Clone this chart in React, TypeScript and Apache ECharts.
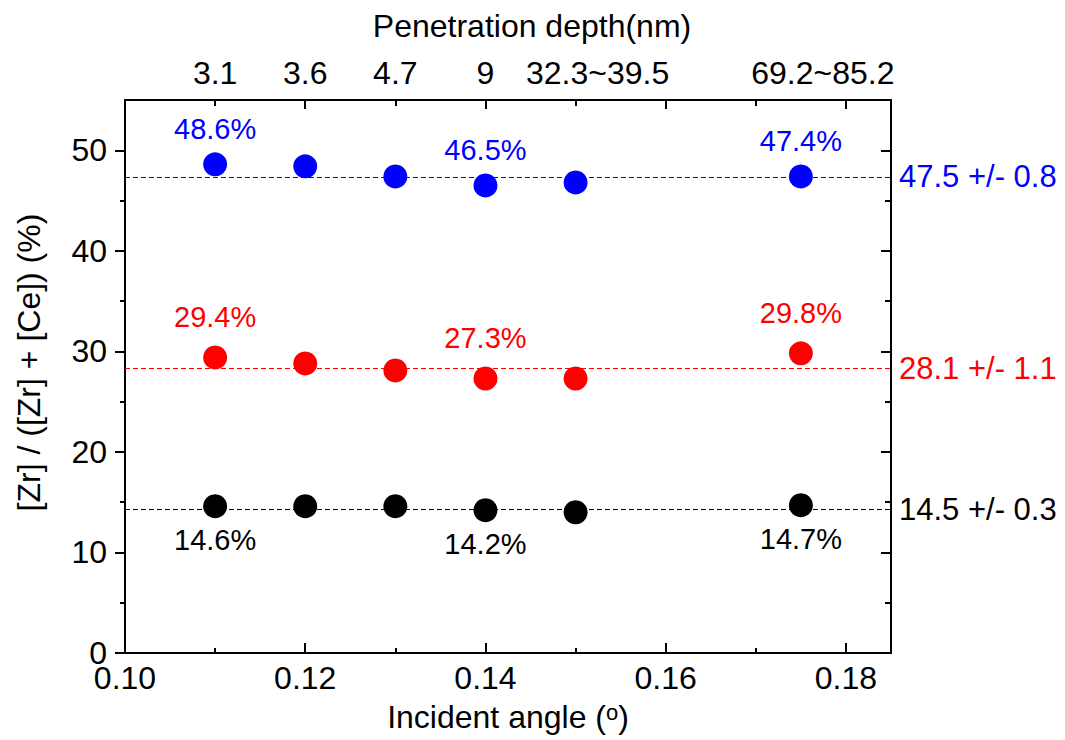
import React, { useEffect, useRef } from "react";
import * as echarts from "echarts";

// ---- data ----
const angles = [0.11, 0.12, 0.13, 0.14, 0.15, 0.175];
const depthLabels = ["3.1", "3.6", "4.7", "9", "32.3~39.5", "69.2~85.2"];
const blueValues = [48.6, 48.4, 47.4, 46.5, 46.8, 47.4];
const redValues = [29.4, 28.8, 28.1, 27.3, 27.3, 29.8];
const blackValues = [14.6, 14.6, 14.6, 14.2, 14.0, 14.7];
const labeledPoints = [0, 3, 5];
const meanLines = [47.35, 28.3, 14.3];
const meanTexts = ["47.5 +/- 0.8", "28.1 +/- 1.1", "14.5 +/- 0.3"];
const xMajorTicks = [0.1, 0.12, 0.14, 0.16, 0.18];
const xMinorTicks = [0.11, 0.13, 0.15, 0.17];
const yMajorTicks = [0, 10, 20, 30, 40, 50];
const yMinorTicks = [5, 15, 25, 35, 45];

const FONT = "'Liberation Sans', Arial, Helvetica, sans-serif";
const X_MIN = 0.1;
const X_MAX = 0.185;
const Y_MIN = 0;
const Y_MAX = 55;

export default function App() {
  const ref = useRef<HTMLDivElement>(null);

  useEffect(() => {
    if (!ref.current) return;
    const chart = echarts.init(ref.current, undefined, { renderer: "svg" });

    const axisLine = { show: true, onZero: false, lineStyle: { color: "#000", width: 2 } };
    const noLine = { show: false, onZero: false };

    const xBase = {
      type: "value" as const,
      min: X_MIN,
      max: X_MAX,
      splitLine: { show: false },
    };
    const yBase = {
      type: "value" as const,
      min: Y_MIN,
      max: Y_MAX,
      splitLine: { show: false },
    };

    const makeSeries = (
      name: string,
      values: number[],
      color: string,
      k: number,
      pos: "top" | "bottom",
      dist: number
    ) => ({
      name,
      type: "scatter",
      symbol: "circle",
      symbolSize: 24,
      itemStyle: { color, opacity: 1 },
      emphasis: { disabled: true },
      data: angles.map((a, i) => ({
        value: [a, values[i]],
        label: { show: labeledPoints.includes(i) },
      })),
      label: {
        show: false,
        position: pos,
        distance: dist,
        color,
        opacity: 1,
        fontSize: 29,
        fontFamily: FONT,
        formatter: (p: any) => `${Number(p.value[1]).toFixed(1)}%`,
      },
      markLine: {
        silent: true,
        symbol: "none",
        animation: false,
        lineStyle: { type: [5, 3], width: 1, color, opacity: 1 },
        label: {
          show: true,
          position: "end",
          distance: 8,
          color,
          fontSize: 31,
          fontFamily: FONT,
          formatter: () => meanTexts[k],
        },
        data: [{ yAxis: meanLines[k] }],
      },
    });

    const option: any = {
      animation: false,
      backgroundColor: "#fff",
      textStyle: { fontFamily: FONT, color: "#000" },
      grid: {
        left: 125,
        right: 174,
        top: 100,
        bottom: 87,
        containLabel: false,
        outerBoundsMode: "none",
      },
      xAxis: [
        {
          ...xBase,
          position: "bottom",
          axisLine,
          axisTick: {
            show: true,
            inside: true,
            length: 10,
            lineStyle: { color: "#000", width: 2 },
            customValues: xMajorTicks,
          },
          axisLabel: {
            show: true,
            customValues: xMajorTicks,
            formatter: (v: number) => v.toFixed(2),
            fontSize: 32,
            lineHeight: 24,
            color: "#000",
            fontFamily: FONT,
            margin: 13,
          },
          name: "Incident angle ({sup|o})",
          nameLocation: "middle",
          nameGap: 48,
          nameTextStyle: {
            fontSize: 32,
            color: "#000",
            fontFamily: FONT,
            lineHeight: 32,
            rich: {
              sup: { fontSize: 22, verticalAlign: "top", lineHeight: 22, fontFamily: FONT, color: "#000" },
            },
          },
        },
        {
          ...xBase,
          position: "bottom",
          axisLine: noLine,
          axisTick: {
            show: true,
            inside: true,
            length: 5,
            lineStyle: { color: "#000", width: 2 },
            customValues: xMinorTicks,
          },
          axisLabel: { show: false },
        },
        {
          ...xBase,
          position: "top",
          axisLine,
          axisTick: {
            show: true,
            inside: true,
            length: 9,
            lineStyle: { color: "#000", width: 2 },
            customValues: xMajorTicks,
          },
          axisLabel: {
            show: true,
            customValues: angles,
            formatter: (v: number) => {
              const i = angles.findIndex((a) => Math.abs(a - v) < 1e-6);
              if (i < 0) return "";
              const t = depthLabels[i];
              return t.indexOf("~") >= 0 ? `{w|${t}}` : t;
            },
            fontSize: 32,
            color: "#000",
            fontFamily: FONT,
            margin: 11,
            rich: {
              w: { fontSize: 32, color: "#000", fontFamily: FONT, padding: [0, 0, 0, 44] },
            },
          },
          name: "Penetration depth(nm)",
          nameLocation: "middle",
          nameGap: 58,
          nameTextStyle: { fontSize: 32, color: "#000", fontFamily: FONT, padding: [0, 0, 0, 48] },
        },
        {
          ...xBase,
          position: "top",
          axisLine: noLine,
          axisTick: {
            show: true,
            inside: true,
            length: 6,
            lineStyle: { color: "#000", width: 2 },
            customValues: xMinorTicks,
          },
          axisLabel: { show: false },
        },
      ],
      yAxis: [
        {
          ...yBase,
          position: "left",
          axisLine,
          axisTick: {
            show: true,
            inside: false,
            length: 10,
            lineStyle: { color: "#000", width: 2 },
            customValues: yMajorTicks,
          },
          axisLabel: {
            show: true,
            customValues: yMajorTicks,
            fontSize: 32,
            lineHeight: 24,
            color: "#000",
            fontFamily: FONT,
            margin: 18,
          },
          name: "[Zr] / ([Zr] + [Ce]) (%)",
          nameLocation: "middle",
          nameGap: 80,
          nameTextStyle: { fontSize: 32, color: "#000", fontFamily: FONT, padding: [0, 0, 0, 28] },
        },
        {
          ...yBase,
          position: "left",
          axisLine: noLine,
          axisTick: {
            show: true,
            inside: false,
            length: 5,
            lineStyle: { color: "#000", width: 2 },
            customValues: yMinorTicks,
          },
          axisLabel: { show: false },
        },
        {
          ...yBase,
          position: "right",
          axisLine,
          axisTick: {
            show: true,
            inside: true,
            length: 10,
            lineStyle: { color: "#000", width: 2 },
            customValues: yMajorTicks,
          },
          axisLabel: { show: false },
        },
        {
          ...yBase,
          position: "right",
          axisLine: noLine,
          axisTick: {
            show: true,
            inside: true,
            length: 6,
            lineStyle: { color: "#000", width: 2 },
            customValues: yMinorTicks,
          },
          axisLabel: { show: false },
        },
      ],
      series: [
        makeSeries("blue", blueValues, "#0000ff", 0, "top", 9),
        makeSeries("red", redValues, "#ff0000", 1, "top", 14),
        makeSeries("black", blackValues, "#000000", 2, "bottom", 7),
      ],
    };

    chart.setOption(option);
    return () => {
      chart.dispose();
    };
  }, []);

  return (
    <div
      ref={ref}
      style={{ position: "fixed", left: 0, top: 0, width: 1065, height: 740, background: "#fff" }}
    />
  );
}
